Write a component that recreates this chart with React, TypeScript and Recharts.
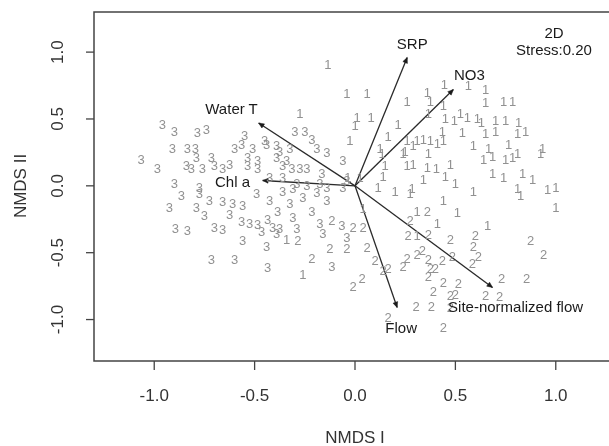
import React from 'react';
import { ScatterChart, Scatter, XAxis, YAxis, ReferenceArea, ReferenceLine } from 'recharts';

// site scores [NMDS I, NMDS II], one list per group
const group1: number[][] = [
  [-0.135, 0.91], [-0.04, 0.69], [0.06, 0.69], [0.26, 0.63], [0.36, 0.7], [0.445, 0.76],
  [0.565, 0.75], [0.65, 0.72], [0.375, 0.63], [0.44, 0.6], [0.65, 0.62], [0.74, 0.63],
  [0.785, 0.63], [-0.275, 0.54], [0.01, 0.51], [0.08, 0.51], [0.0, 0.45], [0.215, 0.46],
  [0.365, 0.54], [0.45, 0.5], [0.495, 0.49], [0.525, 0.54], [0.56, 0.51], [0.61, 0.5],
  [0.63, 0.47], [0.7, 0.49], [0.75, 0.49], [0.815, 0.47], [0.85, 0.41], [0.165, 0.37],
  [0.26, 0.34], [0.29, 0.3], [-0.025, 0.34], [0.125, 0.28], [0.135, 0.24], [0.25, 0.26],
  [0.31, 0.34], [0.34, 0.35], [0.375, 0.34], [0.41, 0.32], [0.44, 0.34], [0.435, 0.41],
  [0.535, 0.4], [0.65, 0.39], [0.7, 0.41], [0.81, 0.39], [0.59, 0.3], [0.665, 0.28],
  [0.765, 0.31], [0.81, 0.24], [0.685, 0.22], [0.64, 0.2], [0.75, 0.2], [0.785, 0.21],
  [0.925, 0.24], [0.365, 0.24], [0.24, 0.24], [0.26, 0.15], [0.29, 0.16], [0.15, 0.15],
  [0.14, 0.07], [-0.035, 0.06], [0.025, 0.06], [0.115, -0.01], [0.2, -0.045], [0.285, -0.02],
  [0.36, 0.14], [0.405, 0.13], [0.475, 0.16], [0.34, 0.05], [0.45, 0.07], [0.5, 0.015],
  [0.685, 0.09], [0.74, 0.06], [0.835, 0.09], [0.885, 0.05], [0.59, -0.04], [0.81, -0.02],
  [0.825, -0.075], [0.96, -0.03], [1.0, -0.015], [1.0, -0.165], [0.44, -0.11], [0.51, -0.2],
  [0.66, -0.3], [0.41, -0.28], [0.31, -0.19], [0.04, -0.17], [0.275, -0.06], [-0.26, -0.66],
  [-0.34, -0.4], [0.31, -0.37], [0.935, 0.28],
];

const group2: number[][] = [
  [-0.285, -0.41], [-0.115, -0.26], [-0.125, -0.47], [-0.04, -0.47], [-0.215, -0.545],
  [-0.01, -0.31], [0.04, -0.31], [0.06, -0.46], [0.1, -0.56], [0.14, -0.63], [0.165, -0.62],
  [-0.01, -0.75], [0.035, -0.69], [0.24, -0.6], [0.26, -0.54], [0.31, -0.51], [0.275, -0.26],
  [0.265, -0.37], [0.165, -0.985], [0.36, -0.19], [0.365, -0.365], [0.475, -0.4], [0.6, -0.37],
  [0.59, -0.45], [0.335, -0.48], [0.365, -0.55], [0.435, -0.56], [0.485, -0.53], [0.615, -0.53],
  [0.585, -0.58], [0.375, -0.62], [0.4, -0.62], [0.365, -0.68], [0.44, -0.72], [0.515, -0.73],
  [0.39, -0.79], [0.475, -0.82], [0.5, -0.81], [0.65, -0.82], [0.72, -0.83], [0.73, -0.69],
  [0.855, -0.69], [0.305, -0.9], [0.38, -0.9], [0.475, -0.91], [0.44, -1.06], [0.875, -0.41],
  [0.94, -0.515],
];

const group3: number[][] = [
  [-0.96, 0.46], [-0.9, 0.41], [-0.785, 0.4], [-0.74, 0.425], [-0.55, 0.38], [-0.91, 0.28],
  [-0.835, 0.28], [-0.795, 0.28], [-0.565, 0.31], [-0.6, 0.28], [-0.51, 0.28], [-0.45, 0.34],
  [-1.065, 0.2], [-0.985, 0.13], [-0.84, 0.15], [-0.815, 0.13], [-0.79, 0.21], [-0.76, 0.13],
  [-0.715, 0.21], [-0.7, 0.15], [-0.66, 0.13], [-0.625, 0.16], [-0.535, 0.21], [-0.535, 0.15],
  [-0.485, 0.19], [-0.485, 0.13], [-0.9, 0.015], [-0.775, -0.015], [-0.425, 0.06], [-0.865, -0.075],
  [-0.925, -0.165], [-0.775, -0.06], [-0.79, -0.165], [-0.75, -0.225], [-0.725, -0.11], [-0.66, -0.12],
  [-0.61, -0.13], [-0.625, -0.215], [-0.56, -0.15], [-0.49, -0.06], [-0.425, -0.11], [-0.385, -0.19],
  [-0.325, -0.13], [-0.26, -0.09], [-0.215, -0.19], [-0.14, -0.11], [-0.175, -0.28], [-0.895, -0.32],
  [-0.835, -0.335], [-0.7, -0.31], [-0.66, -0.33], [-0.565, -0.27], [-0.525, -0.28], [-0.485, -0.29],
  [-0.465, -0.34], [-0.435, -0.25], [-0.41, -0.31], [-0.375, -0.32], [-0.56, -0.41], [-0.44, -0.45],
  [-0.715, -0.55], [-0.6, -0.55], [-0.435, -0.61], [-0.115, -0.6], [-0.44, 0.31], [-0.39, 0.3],
  [-0.3, 0.41], [-0.25, 0.41], [-0.215, 0.35], [-0.19, 0.28], [-0.14, 0.25], [-0.375, 0.26],
  [-0.39, 0.21], [-0.34, 0.19], [-0.315, 0.13], [-0.275, 0.13], [-0.24, 0.13], [-0.165, 0.09],
  [-0.06, 0.19], [-0.36, 0.06], [-0.29, 0.015], [-0.24, 0.0], [-0.175, 0.02], [-0.14, -0.015],
  [-0.06, -0.015], [-0.04, 0.04], [-0.36, -0.04], [-0.31, -0.02], [-0.19, -0.05], [-0.16, -0.36],
  [-0.065, -0.3], [-0.04, -0.39], [-0.29, -0.32], [-0.31, -0.24], [-0.39, -0.36], [-0.36, 0.15],
  [-0.325, 0.28],
];

// fitted environmental vectors
const vectorNames = ['SRP', 'NO3', 'Water T', 'Chl a', 'Flow', 'Site-normalized flow'];
const vectorEnds: number[][] = [[0.26, 0.96], [0.49, 0.72], [-0.48, 0.47], [-0.46, 0.04], [0.21, -0.91], [0.685, -0.76]];
const vectorLabelPos: number[][] = [[0.285, 1.067], [0.57, 0.835], [-0.615, 0.58], [-0.61, 0.03], [0.23, -1.06], [0.8, -0.9]];

const xTicks = [-1, -0.5, 0, 0.5, 1];
const yTicks = [-1, -0.5, 0, 0.5, 1];

const FONT = '"Liberation Sans", Arial, sans-serif';

const toRows = (arr: number[][]) => arr.map(([x, y]) => ({ x, y }));
const labelRows = vectorLabelPos.map(([x, y], i) => ({ x, y, name: vectorNames[i] }));

const digit = (d: string) => (props: any) => (
  <text x={props.cx} y={props.cy} textAnchor="middle" dominantBaseline="central"
    fontSize={13} fontFamily={FONT} fill="#919191">{d}</text>
);

const vecLabel = (props: any) => (
  <text x={props.cx} y={props.cy} textAnchor="middle" dominantBaseline="central"
    fontSize={15} fontFamily={FONT} fill="#1a1a1a">{props.payload.name}</text>
);

const Arrow = (props: any) => {
  const { x1, y1, x2, y2 } = props;
  const a = Math.atan2(y2 - y1, x2 - x1);
  const len = 6;
  const w = 0.42;
  const p = `M${x2},${y2} L${x2 - len * Math.cos(a - w)},${y2 - len * Math.sin(a - w)} L${x2 - len * Math.cos(a + w)},${y2 - len * Math.sin(a + w)} Z`;
  return (
    <g>
      <line x1={x1} y1={y1} x2={x2} y2={y2} stroke="#2a2a2a" strokeWidth={1.3} />
      <path d={p} fill="#1a1a1a" stroke="#1a1a1a" strokeWidth={0.5} />
    </g>
  );
};

const YTick = (props: any) => {
  const { x, y, payload } = props;
  const bx = x - 21;
  return (
    <text x={bx} y={y} transform={`rotate(-90, ${bx}, ${y})`} textAnchor="middle"
      fontSize={17} fontFamily={FONT} fill="#333">{Number(payload.value).toFixed(1)}</text>
  );
};

export default function App() {
  return (
    <div style={{ position: 'absolute', left: 0, top: 0, width: 609, height: 446, overflow: 'hidden' }}>
      <div style={{ willChange: 'transform' }}>
        <ScatterChart width={620} height={446} margin={{ top: 12, right: 4, bottom: 0, left: 0 }}>
          <XAxis type="number" dataKey="x" domain={[-1.3, 1.3]} allowDataOverflow ticks={xTicks}
            tickFormatter={(v: number) => v.toFixed(1)} axisLine={false} tickSize={9} tickMargin={19}
            tickLine={{ stroke: '#444', strokeWidth: 1.3 }} height={85}
            tick={{ fontSize: 17, fill: '#333', fontFamily: FONT }}
            label={{ value: 'NMDS I', position: 'insideBottom', offset: 3, fontSize: 17, fill: '#333', fontFamily: FONT }} />
          <YAxis type="number" dataKey="y" domain={[-1.31, 1.3]} allowDataOverflow ticks={yTicks}
            axisLine={false} tickSize={8} tickLine={{ stroke: '#444', strokeWidth: 1.3 }} width={94}
            tick={<YTick />} />
          <ReferenceArea x1={-1.3} x2={1.3} y1={-1.31} y2={1.3} fill="none" fillOpacity={0}
            stroke="#444" strokeWidth={1.5} />
          {vectorEnds.map(([x, y], i) => (
            <ReferenceLine key={vectorNames[i]} segment={[{ x: 0, y: 0 }, { x, y }]} shape={Arrow} />
          ))}
          <Scatter name="1" data={toRows(group1)} shape={digit('1')} isAnimationActive={false} />
          <Scatter name="2" data={toRows(group2)} shape={digit('2')} isAnimationActive={false} />
          <Scatter name="3" data={toRows(group3)} shape={digit('3')} isAnimationActive={false} />
          <Scatter name="vectors" data={labelRows} shape={vecLabel} isAnimationActive={false} />
          <text x={20} y={186} transform="rotate(-90, 20, 186)" textAnchor="middle" dominantBaseline="central"
            fontSize={17} fontFamily={FONT} fill="#333">NMDS II</text>
          <text x={554} y={32} textAnchor="middle" dominantBaseline="central" fontSize={15} fontFamily={FONT} fill="#1a1a1a">2D</text>
          <text x={554} y={49} textAnchor="middle" dominantBaseline="central" fontSize={15} fontFamily={FONT} fill="#1a1a1a">Stress:0.20</text>
        </ScatterChart>
      </div>
    </div>
  );
}
